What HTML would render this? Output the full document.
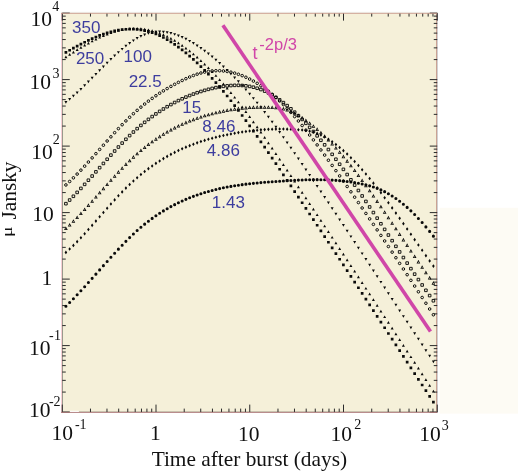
<!DOCTYPE html>
<html><head><meta charset="utf-8"><title>plot</title>
<style>
html,body{margin:0;padding:0;background:#fff;}
body{width:518px;height:472px;overflow:hidden;position:relative;font-family:"Liberation Serif",serif;}
svg{position:absolute;left:0;top:0;will-change:transform;}
.s{font-family:"Liberation Serif",serif;fill:#111;}
.h{font-family:"Liberation Sans",sans-serif;fill:#3d3d9e;}
.m{font-family:"Liberation Sans",sans-serif;fill:#d046a8;}
</style></head><body>
<svg width="518" height="472" viewBox="0 0 518 472">
<rect x="0" y="0" width="518" height="472" fill="#ffffff"/>
<rect x="439.7" y="207.8" width="79" height="205.8" fill="#fdfbf4"/>
<rect x="62" y="13" width="374.5" height="399" fill="#f5f0d9"/>
<rect x="61" y="12.8" width="1" height="400" fill="#f7d0d5"/><rect x="62" y="13" width="1" height="399.5" fill="#99998c"/><rect x="436" y="12.8" width="1.15" height="400" fill="#caa294"/><rect x="437.15" y="12.8" width="0.85" height="400" fill="#cacaca"/><rect x="61" y="11.8" width="377" height="1" fill="#f1f3ed"/><rect x="62" y="411.1" width="374.5" height="0.8" fill="#c4c4b0"/>
<path d="M90.47 412.1v-3.5M90.47 13.1v3.5M106.98 412.1v-3.5M106.98 13.1v3.5M118.69 412.1v-3.5M118.69 13.1v3.5M127.78 412.1v-3.5M127.78 13.1v3.5M135.20 412.1v-3.5M135.20 13.1v3.5M141.48 412.1v-3.5M141.48 13.1v3.5M146.91 412.1v-3.5M146.91 13.1v3.5M151.71 412.1v-3.5M151.71 13.1v3.5M62.25 412.1v-7.5M62.25 13.1v7.5M184.22 412.1v-3.5M184.22 13.1v3.5M200.73 412.1v-3.5M200.73 13.1v3.5M212.44 412.1v-3.5M212.44 13.1v3.5M221.53 412.1v-3.5M221.53 13.1v3.5M228.95 412.1v-3.5M228.95 13.1v3.5M235.23 412.1v-3.5M235.23 13.1v3.5M240.66 412.1v-3.5M240.66 13.1v3.5M245.46 412.1v-3.5M245.46 13.1v3.5M156.00 412.1v-7.5M156.00 13.1v7.5M277.97 412.1v-3.5M277.97 13.1v3.5M294.48 412.1v-3.5M294.48 13.1v3.5M306.19 412.1v-3.5M306.19 13.1v3.5M315.28 412.1v-3.5M315.28 13.1v3.5M322.70 412.1v-3.5M322.70 13.1v3.5M328.98 412.1v-3.5M328.98 13.1v3.5M334.41 412.1v-3.5M334.41 13.1v3.5M339.21 412.1v-3.5M339.21 13.1v3.5M249.75 412.1v-7.5M249.75 13.1v7.5M371.72 412.1v-3.5M371.72 13.1v3.5M388.23 412.1v-3.5M388.23 13.1v3.5M399.94 412.1v-3.5M399.94 13.1v3.5M409.03 412.1v-3.5M409.03 13.1v3.5M416.45 412.1v-3.5M416.45 13.1v3.5M422.73 412.1v-3.5M422.73 13.1v3.5M428.16 412.1v-3.5M428.16 13.1v3.5M432.96 412.1v-3.5M432.96 13.1v3.5M343.50 412.1v-7.5M343.50 13.1v7.5M437.25 412.1v-7.5M437.25 13.1v7.5M62.25 392.08h3.5M437.25 392.08h-3.5M62.25 380.37h3.5M437.25 380.37h-3.5M62.25 372.06h3.5M437.25 372.06h-3.5M62.25 365.62h3.5M437.25 365.62h-3.5M62.25 360.35h3.5M437.25 360.35h-3.5M62.25 355.90h3.5M437.25 355.90h-3.5M62.25 352.04h3.5M437.25 352.04h-3.5M62.25 348.64h3.5M437.25 348.64h-3.5M62.25 412.10h7.5M437.25 412.10h-7.5M62.25 325.58h3.5M437.25 325.58h-3.5M62.25 313.87h3.5M437.25 313.87h-3.5M62.25 305.56h3.5M437.25 305.56h-3.5M62.25 299.12h3.5M437.25 299.12h-3.5M62.25 293.85h3.5M437.25 293.85h-3.5M62.25 289.40h3.5M437.25 289.40h-3.5M62.25 285.54h3.5M437.25 285.54h-3.5M62.25 282.14h3.5M437.25 282.14h-3.5M62.25 345.60h7.5M437.25 345.60h-7.5M62.25 259.08h3.5M437.25 259.08h-3.5M62.25 247.37h3.5M437.25 247.37h-3.5M62.25 239.06h3.5M437.25 239.06h-3.5M62.25 232.62h3.5M437.25 232.62h-3.5M62.25 227.35h3.5M437.25 227.35h-3.5M62.25 222.90h3.5M437.25 222.90h-3.5M62.25 219.04h3.5M437.25 219.04h-3.5M62.25 215.64h3.5M437.25 215.64h-3.5M62.25 279.10h7.5M437.25 279.10h-7.5M62.25 192.58h3.5M437.25 192.58h-3.5M62.25 180.87h3.5M437.25 180.87h-3.5M62.25 172.56h3.5M437.25 172.56h-3.5M62.25 166.12h3.5M437.25 166.12h-3.5M62.25 160.85h3.5M437.25 160.85h-3.5M62.25 156.40h3.5M437.25 156.40h-3.5M62.25 152.54h3.5M437.25 152.54h-3.5M62.25 149.14h3.5M437.25 149.14h-3.5M62.25 212.60h7.5M437.25 212.60h-7.5M62.25 126.08h3.5M437.25 126.08h-3.5M62.25 114.37h3.5M437.25 114.37h-3.5M62.25 106.06h3.5M437.25 106.06h-3.5M62.25 99.62h3.5M437.25 99.62h-3.5M62.25 94.35h3.5M437.25 94.35h-3.5M62.25 89.90h3.5M437.25 89.90h-3.5M62.25 86.04h3.5M437.25 86.04h-3.5M62.25 82.64h3.5M437.25 82.64h-3.5M62.25 146.10h7.5M437.25 146.10h-7.5M62.25 59.58h3.5M437.25 59.58h-3.5M62.25 47.87h3.5M437.25 47.87h-3.5M62.25 39.56h3.5M437.25 39.56h-3.5M62.25 33.12h3.5M437.25 33.12h-3.5M62.25 27.85h3.5M437.25 27.85h-3.5M62.25 23.40h3.5M437.25 23.40h-3.5M62.25 19.54h3.5M437.25 19.54h-3.5M62.25 16.14h3.5M437.25 16.14h-3.5M62.25 79.60h7.5M437.25 79.60h-7.5M62.25 13.10h7.5M437.25 13.10h-7.5" stroke="#2a2a2a" stroke-width="1" fill="none"/>
<rect x="61" y="12.8" width="376.2" height="1.1" fill="#c99a8c" fill-opacity="0.8"/><rect x="61" y="411.9" width="376.2" height="0.9" fill="#a87070"/>
<rect x="69.9" y="410.8" width="9" height="1.1" fill="#ffffff"/>
<clipPath id="c"><rect x="62.25" y="13.1" width="375.0" height="399.0"/></clipPath>
<g clip-path="url(#c)">
<path d="M64.35 306.20a1.55 1.55 0 1 0 3.1 0a1.55 1.55 0 1 0 -3.1 0zM68.10 302.52a1.55 1.55 0 1 0 3.1 0a1.55 1.55 0 1 0 -3.1 0zM71.85 298.70a1.55 1.55 0 1 0 3.1 0a1.55 1.55 0 1 0 -3.1 0zM75.60 294.78a1.55 1.55 0 1 0 3.1 0a1.55 1.55 0 1 0 -3.1 0zM79.35 290.77a1.55 1.55 0 1 0 3.1 0a1.55 1.55 0 1 0 -3.1 0zM83.10 286.68a1.55 1.55 0 1 0 3.1 0a1.55 1.55 0 1 0 -3.1 0zM86.85 282.53a1.55 1.55 0 1 0 3.1 0a1.55 1.55 0 1 0 -3.1 0zM90.60 278.34a1.55 1.55 0 1 0 3.1 0a1.55 1.55 0 1 0 -3.1 0zM94.35 274.12a1.55 1.55 0 1 0 3.1 0a1.55 1.55 0 1 0 -3.1 0zM98.10 269.89a1.55 1.55 0 1 0 3.1 0a1.55 1.55 0 1 0 -3.1 0zM101.85 265.67a1.55 1.55 0 1 0 3.1 0a1.55 1.55 0 1 0 -3.1 0zM105.60 261.47a1.55 1.55 0 1 0 3.1 0a1.55 1.55 0 1 0 -3.1 0zM109.35 257.30a1.55 1.55 0 1 0 3.1 0a1.55 1.55 0 1 0 -3.1 0zM113.10 253.19a1.55 1.55 0 1 0 3.1 0a1.55 1.55 0 1 0 -3.1 0zM116.85 249.15a1.55 1.55 0 1 0 3.1 0a1.55 1.55 0 1 0 -3.1 0zM120.60 245.19a1.55 1.55 0 1 0 3.1 0a1.55 1.55 0 1 0 -3.1 0zM124.35 241.34a1.55 1.55 0 1 0 3.1 0a1.55 1.55 0 1 0 -3.1 0zM128.10 237.61a1.55 1.55 0 1 0 3.1 0a1.55 1.55 0 1 0 -3.1 0zM131.85 234.01a1.55 1.55 0 1 0 3.1 0a1.55 1.55 0 1 0 -3.1 0zM135.60 230.56a1.55 1.55 0 1 0 3.1 0a1.55 1.55 0 1 0 -3.1 0zM139.35 227.28a1.55 1.55 0 1 0 3.1 0a1.55 1.55 0 1 0 -3.1 0zM143.10 224.15a1.55 1.55 0 1 0 3.1 0a1.55 1.55 0 1 0 -3.1 0zM146.85 221.20a1.55 1.55 0 1 0 3.1 0a1.55 1.55 0 1 0 -3.1 0zM150.60 218.41a1.55 1.55 0 1 0 3.1 0a1.55 1.55 0 1 0 -3.1 0zM154.35 215.77a1.55 1.55 0 1 0 3.1 0a1.55 1.55 0 1 0 -3.1 0zM158.10 213.27a1.55 1.55 0 1 0 3.1 0a1.55 1.55 0 1 0 -3.1 0zM161.85 210.92a1.55 1.55 0 1 0 3.1 0a1.55 1.55 0 1 0 -3.1 0zM165.60 208.70a1.55 1.55 0 1 0 3.1 0a1.55 1.55 0 1 0 -3.1 0zM169.35 206.60a1.55 1.55 0 1 0 3.1 0a1.55 1.55 0 1 0 -3.1 0zM173.10 204.63a1.55 1.55 0 1 0 3.1 0a1.55 1.55 0 1 0 -3.1 0zM176.85 202.76a1.55 1.55 0 1 0 3.1 0a1.55 1.55 0 1 0 -3.1 0zM180.60 201.01a1.55 1.55 0 1 0 3.1 0a1.55 1.55 0 1 0 -3.1 0zM184.35 199.36a1.55 1.55 0 1 0 3.1 0a1.55 1.55 0 1 0 -3.1 0zM188.10 197.81a1.55 1.55 0 1 0 3.1 0a1.55 1.55 0 1 0 -3.1 0zM191.85 196.36a1.55 1.55 0 1 0 3.1 0a1.55 1.55 0 1 0 -3.1 0zM195.60 195.00a1.55 1.55 0 1 0 3.1 0a1.55 1.55 0 1 0 -3.1 0zM199.35 193.73a1.55 1.55 0 1 0 3.1 0a1.55 1.55 0 1 0 -3.1 0zM203.10 192.55a1.55 1.55 0 1 0 3.1 0a1.55 1.55 0 1 0 -3.1 0zM206.85 191.45a1.55 1.55 0 1 0 3.1 0a1.55 1.55 0 1 0 -3.1 0zM210.60 190.44a1.55 1.55 0 1 0 3.1 0a1.55 1.55 0 1 0 -3.1 0zM214.35 189.49a1.55 1.55 0 1 0 3.1 0a1.55 1.55 0 1 0 -3.1 0zM218.10 188.62a1.55 1.55 0 1 0 3.1 0a1.55 1.55 0 1 0 -3.1 0zM221.85 187.81a1.55 1.55 0 1 0 3.1 0a1.55 1.55 0 1 0 -3.1 0zM225.60 187.07a1.55 1.55 0 1 0 3.1 0a1.55 1.55 0 1 0 -3.1 0zM229.35 186.39a1.55 1.55 0 1 0 3.1 0a1.55 1.55 0 1 0 -3.1 0zM233.10 185.76a1.55 1.55 0 1 0 3.1 0a1.55 1.55 0 1 0 -3.1 0zM236.85 185.18a1.55 1.55 0 1 0 3.1 0a1.55 1.55 0 1 0 -3.1 0zM240.60 184.66a1.55 1.55 0 1 0 3.1 0a1.55 1.55 0 1 0 -3.1 0zM244.35 184.17a1.55 1.55 0 1 0 3.1 0a1.55 1.55 0 1 0 -3.1 0zM248.10 183.73a1.55 1.55 0 1 0 3.1 0a1.55 1.55 0 1 0 -3.1 0zM251.85 183.33a1.55 1.55 0 1 0 3.1 0a1.55 1.55 0 1 0 -3.1 0zM255.60 182.95a1.55 1.55 0 1 0 3.1 0a1.55 1.55 0 1 0 -3.1 0zM259.35 182.61a1.55 1.55 0 1 0 3.1 0a1.55 1.55 0 1 0 -3.1 0zM263.10 182.29a1.55 1.55 0 1 0 3.1 0a1.55 1.55 0 1 0 -3.1 0zM266.85 181.99a1.55 1.55 0 1 0 3.1 0a1.55 1.55 0 1 0 -3.1 0zM270.60 181.71a1.55 1.55 0 1 0 3.1 0a1.55 1.55 0 1 0 -3.1 0zM274.35 181.44a1.55 1.55 0 1 0 3.1 0a1.55 1.55 0 1 0 -3.1 0zM278.10 181.18a1.55 1.55 0 1 0 3.1 0a1.55 1.55 0 1 0 -3.1 0zM281.85 180.93a1.55 1.55 0 1 0 3.1 0a1.55 1.55 0 1 0 -3.1 0zM285.60 180.70a1.55 1.55 0 1 0 3.1 0a1.55 1.55 0 1 0 -3.1 0zM289.35 180.47a1.55 1.55 0 1 0 3.1 0a1.55 1.55 0 1 0 -3.1 0zM293.10 180.27a1.55 1.55 0 1 0 3.1 0a1.55 1.55 0 1 0 -3.1 0zM296.85 180.09a1.55 1.55 0 1 0 3.1 0a1.55 1.55 0 1 0 -3.1 0zM300.60 179.94a1.55 1.55 0 1 0 3.1 0a1.55 1.55 0 1 0 -3.1 0zM304.35 179.81a1.55 1.55 0 1 0 3.1 0a1.55 1.55 0 1 0 -3.1 0zM308.10 179.72a1.55 1.55 0 1 0 3.1 0a1.55 1.55 0 1 0 -3.1 0zM311.85 179.67a1.55 1.55 0 1 0 3.1 0a1.55 1.55 0 1 0 -3.1 0zM315.60 179.66a1.55 1.55 0 1 0 3.1 0a1.55 1.55 0 1 0 -3.1 0zM319.35 179.69a1.55 1.55 0 1 0 3.1 0a1.55 1.55 0 1 0 -3.1 0zM323.10 179.77a1.55 1.55 0 1 0 3.1 0a1.55 1.55 0 1 0 -3.1 0zM326.85 179.90a1.55 1.55 0 1 0 3.1 0a1.55 1.55 0 1 0 -3.1 0zM330.60 180.08a1.55 1.55 0 1 0 3.1 0a1.55 1.55 0 1 0 -3.1 0zM334.35 180.33a1.55 1.55 0 1 0 3.1 0a1.55 1.55 0 1 0 -3.1 0zM338.10 180.64a1.55 1.55 0 1 0 3.1 0a1.55 1.55 0 1 0 -3.1 0zM341.85 181.01a1.55 1.55 0 1 0 3.1 0a1.55 1.55 0 1 0 -3.1 0zM345.60 181.45a1.55 1.55 0 1 0 3.1 0a1.55 1.55 0 1 0 -3.1 0zM349.35 181.96a1.55 1.55 0 1 0 3.1 0a1.55 1.55 0 1 0 -3.1 0zM353.10 182.55a1.55 1.55 0 1 0 3.1 0a1.55 1.55 0 1 0 -3.1 0zM356.85 183.23a1.55 1.55 0 1 0 3.1 0a1.55 1.55 0 1 0 -3.1 0zM360.60 183.98a1.55 1.55 0 1 0 3.1 0a1.55 1.55 0 1 0 -3.1 0zM364.35 184.85a1.55 1.55 0 1 0 3.1 0a1.55 1.55 0 1 0 -3.1 0zM368.10 185.85a1.55 1.55 0 1 0 3.1 0a1.55 1.55 0 1 0 -3.1 0zM371.85 187.01a1.55 1.55 0 1 0 3.1 0a1.55 1.55 0 1 0 -3.1 0zM375.60 188.35a1.55 1.55 0 1 0 3.1 0a1.55 1.55 0 1 0 -3.1 0zM379.35 189.89a1.55 1.55 0 1 0 3.1 0a1.55 1.55 0 1 0 -3.1 0zM383.10 191.66a1.55 1.55 0 1 0 3.1 0a1.55 1.55 0 1 0 -3.1 0zM386.85 193.68a1.55 1.55 0 1 0 3.1 0a1.55 1.55 0 1 0 -3.1 0zM390.60 195.95a1.55 1.55 0 1 0 3.1 0a1.55 1.55 0 1 0 -3.1 0zM394.35 198.46a1.55 1.55 0 1 0 3.1 0a1.55 1.55 0 1 0 -3.1 0zM398.10 201.21a1.55 1.55 0 1 0 3.1 0a1.55 1.55 0 1 0 -3.1 0zM401.85 204.19a1.55 1.55 0 1 0 3.1 0a1.55 1.55 0 1 0 -3.1 0zM405.60 207.41a1.55 1.55 0 1 0 3.1 0a1.55 1.55 0 1 0 -3.1 0zM409.35 210.86a1.55 1.55 0 1 0 3.1 0a1.55 1.55 0 1 0 -3.1 0zM413.10 214.54a1.55 1.55 0 1 0 3.1 0a1.55 1.55 0 1 0 -3.1 0zM416.85 218.43a1.55 1.55 0 1 0 3.1 0a1.55 1.55 0 1 0 -3.1 0zM420.60 222.55a1.55 1.55 0 1 0 3.1 0a1.55 1.55 0 1 0 -3.1 0zM424.35 226.88a1.55 1.55 0 1 0 3.1 0a1.55 1.55 0 1 0 -3.1 0zM428.10 231.42a1.55 1.55 0 1 0 3.1 0a1.55 1.55 0 1 0 -3.1 0zM431.85 236.16a1.55 1.55 0 1 0 3.1 0a1.55 1.55 0 1 0 -3.1 0z" fill="#0a0a0a" fill-rule="evenodd"/>
<path d="M65.90 250.59L67.20 252.39L65.90 254.19L64.60 252.39zM69.65 247.20L70.95 249.00L69.65 250.80L68.35 249.00zM73.40 243.61L74.70 245.41L73.40 247.21L72.10 245.41zM77.15 239.85L78.45 241.65L77.15 243.45L75.85 241.65zM80.90 235.94L82.20 237.74L80.90 239.54L79.60 237.74zM84.65 231.90L85.95 233.70L84.65 235.50L83.35 233.70zM88.40 227.77L89.70 229.57L88.40 231.37L87.10 229.57zM92.15 223.56L93.45 225.36L92.15 227.16L90.85 225.36zM95.90 219.30L97.20 221.10L95.90 222.90L94.60 221.10zM99.65 215.01L100.95 216.81L99.65 218.61L98.35 216.81zM103.40 210.72L104.70 212.52L103.40 214.32L102.10 212.52zM107.15 206.45L108.45 208.25L107.15 210.05L105.85 208.25zM110.90 202.23L112.20 204.03L110.90 205.83L109.60 204.03zM114.65 198.08L115.95 199.88L114.65 201.68L113.35 199.88zM118.40 194.02L119.70 195.82L118.40 197.62L117.10 195.82zM122.15 190.09L123.45 191.89L122.15 193.69L120.85 191.89zM125.90 186.29L127.20 188.09L125.90 189.89L124.60 188.09zM129.65 182.66L130.95 184.46L129.65 186.26L128.35 184.46zM133.40 179.19L134.70 180.99L133.40 182.79L132.10 180.99zM137.15 175.88L138.45 177.68L137.15 179.48L135.85 177.68zM140.90 172.73L142.20 174.53L140.90 176.33L139.60 174.53zM144.65 169.73L145.95 171.53L144.65 173.33L143.35 171.53zM148.40 166.87L149.70 168.67L148.40 170.47L147.10 168.67zM152.15 164.15L153.45 165.95L152.15 167.75L150.85 165.95zM155.90 161.57L157.20 163.37L155.90 165.17L154.60 163.37zM159.65 159.13L160.95 160.93L159.65 162.73L158.35 160.93zM163.40 156.81L164.70 158.61L163.40 160.41L162.10 158.61zM167.15 154.62L168.45 156.42L167.15 158.22L165.85 156.42zM170.90 152.55L172.20 154.35L170.90 156.15L169.60 154.35zM174.65 150.59L175.95 152.39L174.65 154.19L173.35 152.39zM178.40 148.74L179.70 150.54L178.40 152.34L177.10 150.54zM182.15 147.01L183.45 148.81L182.15 150.61L180.85 148.81zM185.90 145.37L187.20 147.17L185.90 148.97L184.60 147.17zM189.65 143.83L190.95 145.63L189.65 147.43L188.35 145.63zM193.40 142.39L194.70 144.19L193.40 145.99L192.10 144.19zM197.15 141.03L198.45 142.83L197.15 144.63L195.85 142.83zM200.90 139.76L202.20 141.56L200.90 143.36L199.60 141.56zM204.65 138.58L205.95 140.38L204.65 142.18L203.35 140.38zM208.40 137.46L209.70 139.26L208.40 141.06L207.10 139.26zM212.15 136.42L213.45 138.22L212.15 140.02L210.85 138.22zM215.90 135.45L217.20 137.25L215.90 139.05L214.60 137.25zM219.65 134.54L220.95 136.34L219.65 138.14L218.35 136.34zM223.40 133.69L224.70 135.49L223.40 137.29L222.10 135.49zM227.15 132.90L228.45 134.70L227.15 136.50L225.85 134.70zM230.90 132.16L232.20 133.96L230.90 135.76L229.60 133.96zM234.65 131.46L235.95 133.26L234.65 135.06L233.35 133.26zM238.40 130.82L239.70 132.62L238.40 134.42L237.10 132.62zM242.15 130.23L243.45 132.03L242.15 133.83L240.85 132.03zM245.90 129.69L247.20 131.49L245.90 133.29L244.60 131.49zM249.65 129.20L250.95 131.00L249.65 132.80L248.35 131.00zM253.40 128.76L254.70 130.56L253.40 132.36L252.10 130.56zM257.15 128.38L258.45 130.18L257.15 131.98L255.85 130.18zM260.90 128.05L262.20 129.85L260.90 131.65L259.60 129.85zM264.65 127.78L265.95 129.58L264.65 131.38L263.35 129.58zM268.40 127.56L269.70 129.36L268.40 131.16L267.10 129.36zM272.15 127.40L273.45 129.20L272.15 131.00L270.85 129.20zM275.90 127.30L277.20 129.10L275.90 130.90L274.60 129.10zM279.65 127.25L280.95 129.05L279.65 130.85L278.35 129.05zM283.40 127.27L284.70 129.07L283.40 130.87L282.10 129.07zM287.15 127.34L288.45 129.14L287.15 130.94L285.85 129.14zM290.90 127.47L292.20 129.27L290.90 131.07L289.60 129.27zM294.65 127.66L295.95 129.46L294.65 131.26L293.35 129.46zM298.40 127.92L299.70 129.72L298.40 131.52L297.10 129.72zM302.15 128.24L303.45 130.04L302.15 131.84L300.85 130.04zM305.90 128.70L307.20 130.50L305.90 132.30L304.60 130.50zM309.65 129.36L310.95 131.16L309.65 132.96L308.35 131.16zM313.40 130.31L314.70 132.11L313.40 133.91L312.10 132.11zM317.15 131.60L318.45 133.40L317.15 135.20L315.85 133.40zM320.90 133.23L322.20 135.03L320.90 136.83L319.60 135.03zM324.65 135.17L325.95 136.97L324.65 138.77L323.35 136.97zM328.40 137.40L329.70 139.20L328.40 141.00L327.10 139.20zM332.15 139.90L333.45 141.70L332.15 143.50L330.85 141.70zM335.90 142.64L337.20 144.44L335.90 146.24L334.60 144.44zM339.65 145.63L340.95 147.43L339.65 149.23L338.35 147.43zM343.40 148.84L344.70 150.64L343.40 152.44L342.10 150.64zM347.15 152.27L348.45 154.07L347.15 155.87L345.85 154.07zM350.90 155.91L352.20 157.71L350.90 159.51L349.60 157.71zM354.65 159.73L355.95 161.53L354.65 163.33L353.35 161.53zM358.40 163.74L359.70 165.54L358.40 167.34L357.10 165.54zM362.15 167.92L363.45 169.72L362.15 171.52L360.85 169.72zM365.90 172.26L367.20 174.06L365.90 175.86L364.60 174.06zM369.65 176.75L370.95 178.55L369.65 180.35L368.35 178.55zM373.40 181.37L374.70 183.17L373.40 184.97L372.10 183.17zM377.15 186.11L378.45 187.91L377.15 189.71L375.85 187.91zM380.90 190.97L382.20 192.77L380.90 194.57L379.60 192.77zM384.65 195.93L385.95 197.73L384.65 199.53L383.35 197.73zM388.40 200.98L389.70 202.78L388.40 204.58L387.10 202.78zM392.15 206.10L393.45 207.90L392.15 209.70L390.85 207.90zM395.90 211.29L397.20 213.09L395.90 214.89L394.60 213.09zM399.65 216.54L400.95 218.34L399.65 220.14L398.35 218.34zM403.40 221.83L404.70 223.63L403.40 225.43L402.10 223.63zM407.15 227.15L408.45 228.95L407.15 230.75L405.85 228.95zM410.90 232.49L412.20 234.29L410.90 236.09L409.60 234.29zM414.65 237.84L415.95 239.64L414.65 241.44L413.35 239.64zM418.40 243.19L419.70 244.99L418.40 246.79L417.10 244.99zM422.15 248.52L423.45 250.32L422.15 252.12L420.85 250.32zM425.90 253.83L427.20 255.63L425.90 257.43L424.60 255.63zM429.65 259.10L430.95 260.90L429.65 262.70L428.35 260.90zM433.40 264.32L434.70 266.12L433.40 267.92L432.10 266.12z" fill="#0a0a0a" fill-rule="evenodd"/>
<path d="M65.90 226.48L67.75 230.08L64.05 230.08zM65.90 228.23L65.35 229.33L66.45 229.33zM69.65 222.92L71.50 226.52L67.80 226.52zM69.65 224.67L69.10 225.77L70.20 225.77zM73.40 219.21L75.25 222.81L71.55 222.81zM73.40 220.96L72.85 222.06L73.95 222.06zM77.15 215.39L79.00 218.99L75.30 218.99zM77.15 217.14L76.60 218.24L77.70 218.24zM80.90 211.45L82.75 215.05L79.05 215.05zM80.90 213.20L80.35 214.30L81.45 214.30zM84.65 207.42L86.50 211.02L82.80 211.02zM84.65 209.17L84.10 210.27L85.20 210.27zM88.40 203.32L90.25 206.92L86.55 206.92zM88.40 205.07L87.85 206.17L88.95 206.17zM92.15 199.17L94.00 202.77L90.30 202.77zM92.15 200.92L91.60 202.02L92.70 202.02zM95.90 194.98L97.75 198.58L94.05 198.58zM95.90 196.73L95.35 197.83L96.45 197.83zM99.65 190.77L101.50 194.37L97.80 194.37zM99.65 192.52L99.10 193.62L100.20 193.62zM103.40 186.57L105.25 190.17L101.55 190.17zM103.40 188.32L102.85 189.42L103.95 189.42zM107.15 182.38L109.00 185.98L105.30 185.98zM107.15 184.13L106.60 185.23L107.70 185.23zM110.90 178.23L112.75 181.83L109.05 181.83zM110.90 179.98L110.35 181.08L111.45 181.08zM114.65 174.13L116.50 177.73L112.80 177.73zM114.65 175.88L114.10 176.98L115.20 176.98zM118.40 170.11L120.25 173.71L116.55 173.71zM118.40 171.86L117.85 172.96L118.95 172.96zM122.15 166.17L124.00 169.77L120.30 169.77zM122.15 167.92L121.60 169.02L122.70 169.02zM125.90 162.35L127.75 165.95L124.05 165.95zM125.90 164.10L125.35 165.20L126.45 165.20zM129.65 158.65L131.50 162.25L127.80 162.25zM129.65 160.40L129.10 161.50L130.20 161.50zM133.40 155.10L135.25 158.70L131.55 158.70zM133.40 156.85L132.85 157.95L133.95 157.95zM137.15 151.70L139.00 155.30L135.30 155.30zM137.15 153.45L136.60 154.55L137.70 154.55zM140.90 148.47L142.75 152.07L139.05 152.07zM140.90 150.22L140.35 151.32L141.45 151.32zM144.65 145.39L146.50 148.99L142.80 148.99zM144.65 147.14L144.10 148.24L145.20 148.24zM148.40 142.46L150.25 146.06L146.55 146.06zM148.40 144.21L147.85 145.31L148.95 145.31zM152.15 139.67L154.00 143.27L150.30 143.27zM152.15 141.42L151.60 142.52L152.70 142.52zM155.90 137.03L157.75 140.63L154.05 140.63zM155.90 138.78L155.35 139.88L156.45 139.88zM159.65 134.53L161.50 138.13L157.80 138.13zM159.65 136.28L159.10 137.38L160.20 137.38zM163.40 132.16L165.25 135.76L161.55 135.76zM163.40 133.91L162.85 135.01L163.95 135.01zM167.15 129.93L169.00 133.53L165.30 133.53zM167.15 131.68L166.60 132.78L167.70 132.78zM170.90 127.81L172.75 131.41L169.05 131.41zM170.90 129.56L170.35 130.66L171.45 130.66zM174.65 125.82L176.50 129.42L172.80 129.42zM174.65 127.57L174.10 128.67L175.20 128.67zM178.40 123.95L180.25 127.55L176.55 127.55zM178.40 125.70L177.85 126.80L178.95 126.80zM182.15 122.18L184.00 125.78L180.30 125.78zM182.15 123.93L181.60 125.03L182.70 125.03zM185.90 120.53L187.75 124.13L184.05 124.13zM185.90 122.28L185.35 123.38L186.45 123.38zM189.65 118.98L191.50 122.58L187.80 122.58zM189.65 120.73L189.10 121.83L190.20 121.83zM193.40 117.53L195.25 121.13L191.55 121.13zM193.40 119.28L192.85 120.38L193.95 120.38zM197.15 116.18L199.00 119.78L195.30 119.78zM197.15 117.93L196.60 119.03L197.70 119.03zM200.90 114.92L202.75 118.52L199.05 118.52zM200.90 116.67L200.35 117.77L201.45 117.77zM204.65 113.74L206.50 117.34L202.80 117.34zM204.65 115.49L204.10 116.59L205.20 116.59zM208.40 112.65L210.25 116.25L206.55 116.25zM208.40 114.40L207.85 115.50L208.95 115.50zM212.15 111.64L214.00 115.24L210.30 115.24zM212.15 113.39L211.60 114.49L212.70 114.49zM215.90 110.71L217.75 114.31L214.05 114.31zM215.90 112.46L215.35 113.56L216.45 113.56zM219.65 109.84L221.50 113.44L217.80 113.44zM219.65 111.59L219.10 112.69L220.20 112.69zM223.40 109.05L225.25 112.65L221.55 112.65zM223.40 110.80L222.85 111.90L223.95 111.90zM227.15 108.32L229.00 111.92L225.30 111.92zM227.15 110.07L226.60 111.17L227.70 111.17zM230.90 107.67L232.75 111.27L229.05 111.27zM230.90 109.42L230.35 110.52L231.45 110.52zM234.65 107.09L236.50 110.69L232.80 110.69zM234.65 108.84L234.10 109.94L235.20 109.94zM238.40 106.59L240.25 110.19L236.55 110.19zM238.40 108.34L237.85 109.44L238.95 109.44zM242.15 106.15L244.00 109.75L240.30 109.75zM242.15 107.90L241.60 109.00L242.70 109.00zM245.90 105.80L247.75 109.40L244.05 109.40zM245.90 107.55L245.35 108.65L246.45 108.65zM249.65 105.51L251.50 109.11L247.80 109.11zM249.65 107.26L249.10 108.36L250.20 108.36zM253.40 105.30L255.25 108.90L251.55 108.90zM253.40 107.05L252.85 108.15L253.95 108.15zM257.15 105.17L259.00 108.77L255.30 108.77zM257.15 106.92L256.60 108.02L257.70 108.02zM260.90 105.12L262.75 108.72L259.05 108.72zM260.90 106.87L260.35 107.97L261.45 107.97zM264.65 105.14L266.50 108.74L262.80 108.74zM264.65 106.89L264.10 107.99L265.20 107.99zM268.40 105.24L270.25 108.84L266.55 108.84zM268.40 106.99L267.85 108.09L268.95 108.09zM272.15 105.41L274.00 109.01L270.30 109.01zM272.15 107.16L271.60 108.26L272.70 108.26zM275.90 105.68L277.75 109.28L274.05 109.28zM275.90 107.43L275.35 108.53L276.45 108.53zM279.65 106.10L281.50 109.70L277.80 109.70zM279.65 107.85L279.10 108.95L280.20 108.95zM283.40 106.79L285.25 110.39L281.55 110.39zM283.40 108.54L282.85 109.64L283.95 109.64zM287.15 107.83L289.00 111.43L285.30 111.43zM287.15 109.58L286.60 110.68L287.70 110.68zM290.90 109.31L292.75 112.91L289.05 112.91zM290.90 111.06L290.35 112.16L291.45 112.16zM294.65 111.19L296.50 114.79L292.80 114.79zM294.65 112.94L294.10 114.04L295.20 114.04zM298.40 113.40L300.25 117.00L296.55 117.00zM298.40 115.15L297.85 116.25L298.95 116.25zM302.15 115.84L304.00 119.44L300.30 119.44zM302.15 117.59L301.60 118.69L302.70 118.69zM305.90 118.46L307.75 122.06L304.05 122.06zM305.90 120.21L305.35 121.31L306.45 121.31zM309.65 121.24L311.50 124.84L307.80 124.84zM309.65 122.99L309.10 124.09L310.20 124.09zM313.40 124.20L315.25 127.80L311.55 127.80zM313.40 125.95L312.85 127.05L313.95 127.05zM317.15 127.34L319.00 130.94L315.30 130.94zM317.15 129.09L316.60 130.19L317.70 130.19zM320.90 130.67L322.75 134.27L319.05 134.27zM320.90 132.42L320.35 133.52L321.45 133.52zM324.65 134.20L326.50 137.80L322.80 137.80zM324.65 135.95L324.10 137.05L325.20 137.05zM328.40 137.92L330.25 141.52L326.55 141.52zM328.40 139.67L327.85 140.77L328.95 140.77zM332.15 141.83L334.00 145.43L330.30 145.43zM332.15 143.58L331.60 144.68L332.70 144.68zM335.90 145.90L337.75 149.50L334.05 149.50zM335.90 147.65L335.35 148.75L336.45 148.75zM339.65 150.14L341.50 153.74L337.80 153.74zM339.65 151.89L339.10 152.99L340.20 152.99zM343.40 154.53L345.25 158.13L341.55 158.13zM343.40 156.28L342.85 157.38L343.95 157.38zM347.15 159.06L349.00 162.66L345.30 162.66zM347.15 160.81L346.60 161.91L347.70 161.91zM350.90 163.73L352.75 167.33L349.05 167.33zM350.90 165.48L350.35 166.58L351.45 166.58zM354.65 168.52L356.50 172.12L352.80 172.12zM354.65 170.27L354.10 171.37L355.20 171.37zM358.40 173.43L360.25 177.03L356.55 177.03zM358.40 175.18L357.85 176.28L358.95 176.28zM362.15 178.45L364.00 182.05L360.30 182.05zM362.15 180.20L361.60 181.30L362.70 181.30zM365.90 183.55L367.75 187.15L364.05 187.15zM365.90 185.30L365.35 186.40L366.45 186.40zM369.65 188.75L371.50 192.35L367.80 192.35zM369.65 190.50L369.10 191.60L370.20 191.60zM373.40 194.02L375.25 197.62L371.55 197.62zM373.40 195.77L372.85 196.87L373.95 196.87zM377.15 199.36L379.00 202.96L375.30 202.96zM377.15 201.11L376.60 202.21L377.70 202.21zM380.90 204.76L382.75 208.36L379.05 208.36zM380.90 206.51L380.35 207.61L381.45 207.61zM384.65 210.21L386.50 213.81L382.80 213.81zM384.65 211.96L384.10 213.06L385.20 213.06zM388.40 215.69L390.25 219.29L386.55 219.29zM388.40 217.44L387.85 218.54L388.95 218.54zM392.15 221.20L394.00 224.80L390.30 224.80zM392.15 222.95L391.60 224.05L392.70 224.05zM395.90 226.74L397.75 230.34L394.05 230.34zM395.90 228.49L395.35 229.59L396.45 229.59zM399.65 232.28L401.50 235.88L397.80 235.88zM399.65 234.03L399.10 235.13L400.20 235.13zM403.40 237.83L405.25 241.43L401.55 241.43zM403.40 239.58L402.85 240.68L403.95 240.68zM407.15 243.37L409.00 246.97L405.30 246.97zM407.15 245.12L406.60 246.22L407.70 246.22zM410.90 248.88L412.75 252.48L409.05 252.48zM410.90 250.63L410.35 251.73L411.45 251.73zM414.65 254.38L416.50 257.98L412.80 257.98zM414.65 256.13L414.10 257.23L415.20 257.23zM418.40 259.83L420.25 263.43L416.55 263.43zM418.40 261.58L417.85 262.68L418.95 262.68zM422.15 265.24L424.00 268.84L420.30 268.84zM422.15 266.99L421.60 268.09L422.70 268.09zM425.90 270.59L427.75 274.19L424.05 274.19zM425.90 272.34L425.35 273.44L426.45 273.44zM429.65 275.87L431.50 279.47L427.80 279.47zM429.65 277.62L429.10 278.72L430.20 278.72zM433.40 281.08L435.25 284.68L431.55 284.68zM433.40 282.83L432.85 283.93L433.95 283.93z" fill="#0a0a0a" fill-rule="evenodd"/>
<path d="M64.60 202.38h2.60v2.60h-2.60zM68.35 198.74h2.60v2.60h-2.60zM72.10 194.98h2.60v2.60h-2.60zM75.85 191.09h2.60v2.60h-2.60zM79.60 187.11h2.60v2.60h-2.60zM83.35 183.05h2.60v2.60h-2.60zM87.10 178.93h2.60v2.60h-2.60zM90.85 174.76h2.60v2.60h-2.60zM94.60 170.56h2.60v2.60h-2.60zM98.35 166.35h2.60v2.60h-2.60zM102.10 162.15h2.60v2.60h-2.60zM105.85 157.96h2.60v2.60h-2.60zM109.60 153.82h2.60v2.60h-2.60zM113.35 149.73h2.60v2.60h-2.60zM117.10 145.72h2.60v2.60h-2.60zM120.85 141.80h2.60v2.60h-2.60zM124.60 137.98h2.60v2.60h-2.60zM128.35 134.29h2.60v2.60h-2.60zM132.10 130.74h2.60v2.60h-2.60zM135.85 127.35h2.60v2.60h-2.60zM139.60 124.11h2.60v2.60h-2.60zM143.35 121.02h2.60v2.60h-2.60zM147.10 118.08h2.60v2.60h-2.60zM150.85 115.28h2.60v2.60h-2.60zM154.60 112.62h2.60v2.60h-2.60zM158.35 110.09h2.60v2.60h-2.60zM162.10 107.69h2.60v2.60h-2.60zM165.85 105.41h2.60v2.60h-2.60zM169.60 103.26h2.60v2.60h-2.60zM173.35 101.22h2.60v2.60h-2.60zM177.10 99.30h2.60v2.60h-2.60zM180.85 97.49h2.60v2.60h-2.60zM184.60 95.80h2.60v2.60h-2.60zM188.35 94.23h2.60v2.60h-2.60zM192.10 92.77h2.60v2.60h-2.60zM195.85 91.42h2.60v2.60h-2.60zM199.60 90.18h2.60v2.60h-2.60zM203.35 89.05h2.60v2.60h-2.60zM207.10 88.04h2.60v2.60h-2.60zM210.85 87.13h2.60v2.60h-2.60zM214.60 86.32h2.60v2.60h-2.60zM218.35 85.63h2.60v2.60h-2.60zM222.10 85.04h2.60v2.60h-2.60zM225.85 84.57h2.60v2.60h-2.60zM229.60 84.23h2.60v2.60h-2.60zM233.35 84.05h2.60v2.60h-2.60zM237.10 84.03h2.60v2.60h-2.60zM240.85 84.19h2.60v2.60h-2.60zM244.60 84.55h2.60v2.60h-2.60zM248.35 85.11h2.60v2.60h-2.60zM252.10 85.91h2.60v2.60h-2.60zM255.85 86.95h2.60v2.60h-2.60zM259.60 88.24h2.60v2.60h-2.60zM263.35 89.80h2.60v2.60h-2.60zM267.10 91.63h2.60v2.60h-2.60zM270.85 93.70h2.60v2.60h-2.60zM274.60 96.02h2.60v2.60h-2.60zM278.35 98.57h2.60v2.60h-2.60zM282.10 101.34h2.60v2.60h-2.60zM285.85 104.33h2.60v2.60h-2.60zM289.60 107.50h2.60v2.60h-2.60zM293.35 110.87h2.60v2.60h-2.60zM297.10 114.42h2.60v2.60h-2.60zM300.85 118.13h2.60v2.60h-2.60zM304.60 122.01h2.60v2.60h-2.60zM308.35 126.04h2.60v2.60h-2.60zM312.10 130.21h2.60v2.60h-2.60zM315.85 134.53h2.60v2.60h-2.60zM319.60 138.97h2.60v2.60h-2.60zM323.35 143.55h2.60v2.60h-2.60zM327.10 148.24h2.60v2.60h-2.60zM330.85 153.04h2.60v2.60h-2.60zM334.60 157.95h2.60v2.60h-2.60zM338.35 162.95h2.60v2.60h-2.60zM342.10 168.05h2.60v2.60h-2.60zM345.85 173.23h2.60v2.60h-2.60zM349.60 178.49h2.60v2.60h-2.60zM353.35 183.81h2.60v2.60h-2.60zM357.10 189.20h2.60v2.60h-2.60zM360.85 194.65h2.60v2.60h-2.60zM364.60 200.14h2.60v2.60h-2.60zM368.35 205.68h2.60v2.60h-2.60zM372.10 211.25h2.60v2.60h-2.60zM375.85 216.85h2.60v2.60h-2.60zM379.60 222.47h2.60v2.60h-2.60zM383.35 228.10h2.60v2.60h-2.60zM387.10 233.74h2.60v2.60h-2.60zM390.85 239.38h2.60v2.60h-2.60zM394.60 245.02h2.60v2.60h-2.60zM398.35 250.64h2.60v2.60h-2.60zM402.10 256.24h2.60v2.60h-2.60zM405.85 261.81h2.60v2.60h-2.60zM409.60 267.35h2.60v2.60h-2.60zM413.35 272.84h2.60v2.60h-2.60zM417.10 278.29h2.60v2.60h-2.60zM420.85 283.68h2.60v2.60h-2.60zM424.60 289.01h2.60v2.60h-2.60zM428.35 294.27h2.60v2.60h-2.60zM432.10 299.45h2.60v2.60h-2.60z" fill="none" stroke="#000" stroke-width="0.9"/>
<path d="M64.60 184.94a1.3 1.3 0 1 0 2.6 0a1.3 1.3 0 1 0 -2.6 0zM68.35 181.48a1.3 1.3 0 1 0 2.6 0a1.3 1.3 0 1 0 -2.6 0zM72.10 177.84a1.3 1.3 0 1 0 2.6 0a1.3 1.3 0 1 0 -2.6 0zM75.85 174.06a1.3 1.3 0 1 0 2.6 0a1.3 1.3 0 1 0 -2.6 0zM79.60 170.16a1.3 1.3 0 1 0 2.6 0a1.3 1.3 0 1 0 -2.6 0zM83.35 166.14a1.3 1.3 0 1 0 2.6 0a1.3 1.3 0 1 0 -2.6 0zM87.10 162.05a1.3 1.3 0 1 0 2.6 0a1.3 1.3 0 1 0 -2.6 0zM90.85 157.88a1.3 1.3 0 1 0 2.6 0a1.3 1.3 0 1 0 -2.6 0zM94.60 153.67a1.3 1.3 0 1 0 2.6 0a1.3 1.3 0 1 0 -2.6 0zM98.35 149.44a1.3 1.3 0 1 0 2.6 0a1.3 1.3 0 1 0 -2.6 0zM102.10 145.21a1.3 1.3 0 1 0 2.6 0a1.3 1.3 0 1 0 -2.6 0zM105.85 140.99a1.3 1.3 0 1 0 2.6 0a1.3 1.3 0 1 0 -2.6 0zM109.60 136.81a1.3 1.3 0 1 0 2.6 0a1.3 1.3 0 1 0 -2.6 0zM113.35 132.70a1.3 1.3 0 1 0 2.6 0a1.3 1.3 0 1 0 -2.6 0zM117.10 128.66a1.3 1.3 0 1 0 2.6 0a1.3 1.3 0 1 0 -2.6 0zM120.85 124.72a1.3 1.3 0 1 0 2.6 0a1.3 1.3 0 1 0 -2.6 0zM124.60 120.90a1.3 1.3 0 1 0 2.6 0a1.3 1.3 0 1 0 -2.6 0zM128.35 117.23a1.3 1.3 0 1 0 2.6 0a1.3 1.3 0 1 0 -2.6 0zM132.10 113.71a1.3 1.3 0 1 0 2.6 0a1.3 1.3 0 1 0 -2.6 0zM135.85 110.35a1.3 1.3 0 1 0 2.6 0a1.3 1.3 0 1 0 -2.6 0zM139.60 107.14a1.3 1.3 0 1 0 2.6 0a1.3 1.3 0 1 0 -2.6 0zM143.35 104.08a1.3 1.3 0 1 0 2.6 0a1.3 1.3 0 1 0 -2.6 0zM147.10 101.16a1.3 1.3 0 1 0 2.6 0a1.3 1.3 0 1 0 -2.6 0zM150.85 98.38a1.3 1.3 0 1 0 2.6 0a1.3 1.3 0 1 0 -2.6 0zM154.60 95.74a1.3 1.3 0 1 0 2.6 0a1.3 1.3 0 1 0 -2.6 0zM158.35 93.22a1.3 1.3 0 1 0 2.6 0a1.3 1.3 0 1 0 -2.6 0zM162.10 90.83a1.3 1.3 0 1 0 2.6 0a1.3 1.3 0 1 0 -2.6 0zM165.85 88.56a1.3 1.3 0 1 0 2.6 0a1.3 1.3 0 1 0 -2.6 0zM169.60 86.40a1.3 1.3 0 1 0 2.6 0a1.3 1.3 0 1 0 -2.6 0zM173.35 84.34a1.3 1.3 0 1 0 2.6 0a1.3 1.3 0 1 0 -2.6 0zM177.10 82.37a1.3 1.3 0 1 0 2.6 0a1.3 1.3 0 1 0 -2.6 0zM180.85 80.48a1.3 1.3 0 1 0 2.6 0a1.3 1.3 0 1 0 -2.6 0zM184.60 78.69a1.3 1.3 0 1 0 2.6 0a1.3 1.3 0 1 0 -2.6 0zM188.35 77.03a1.3 1.3 0 1 0 2.6 0a1.3 1.3 0 1 0 -2.6 0zM192.10 75.51a1.3 1.3 0 1 0 2.6 0a1.3 1.3 0 1 0 -2.6 0zM195.85 74.16a1.3 1.3 0 1 0 2.6 0a1.3 1.3 0 1 0 -2.6 0zM199.60 73.01a1.3 1.3 0 1 0 2.6 0a1.3 1.3 0 1 0 -2.6 0zM203.35 72.08a1.3 1.3 0 1 0 2.6 0a1.3 1.3 0 1 0 -2.6 0zM207.10 71.38a1.3 1.3 0 1 0 2.6 0a1.3 1.3 0 1 0 -2.6 0zM210.85 70.93a1.3 1.3 0 1 0 2.6 0a1.3 1.3 0 1 0 -2.6 0zM214.60 70.71a1.3 1.3 0 1 0 2.6 0a1.3 1.3 0 1 0 -2.6 0zM218.35 70.73a1.3 1.3 0 1 0 2.6 0a1.3 1.3 0 1 0 -2.6 0zM222.10 70.99a1.3 1.3 0 1 0 2.6 0a1.3 1.3 0 1 0 -2.6 0zM225.85 71.47a1.3 1.3 0 1 0 2.6 0a1.3 1.3 0 1 0 -2.6 0zM229.60 72.18a1.3 1.3 0 1 0 2.6 0a1.3 1.3 0 1 0 -2.6 0zM233.35 73.12a1.3 1.3 0 1 0 2.6 0a1.3 1.3 0 1 0 -2.6 0zM237.10 74.28a1.3 1.3 0 1 0 2.6 0a1.3 1.3 0 1 0 -2.6 0zM240.85 75.65a1.3 1.3 0 1 0 2.6 0a1.3 1.3 0 1 0 -2.6 0zM244.60 77.25a1.3 1.3 0 1 0 2.6 0a1.3 1.3 0 1 0 -2.6 0zM248.35 79.06a1.3 1.3 0 1 0 2.6 0a1.3 1.3 0 1 0 -2.6 0zM252.10 81.08a1.3 1.3 0 1 0 2.6 0a1.3 1.3 0 1 0 -2.6 0zM255.85 83.32a1.3 1.3 0 1 0 2.6 0a1.3 1.3 0 1 0 -2.6 0zM259.60 85.76a1.3 1.3 0 1 0 2.6 0a1.3 1.3 0 1 0 -2.6 0zM263.35 88.40a1.3 1.3 0 1 0 2.6 0a1.3 1.3 0 1 0 -2.6 0zM267.10 91.25a1.3 1.3 0 1 0 2.6 0a1.3 1.3 0 1 0 -2.6 0zM270.85 94.30a1.3 1.3 0 1 0 2.6 0a1.3 1.3 0 1 0 -2.6 0zM274.60 97.54a1.3 1.3 0 1 0 2.6 0a1.3 1.3 0 1 0 -2.6 0zM278.35 100.98a1.3 1.3 0 1 0 2.6 0a1.3 1.3 0 1 0 -2.6 0zM282.10 104.60a1.3 1.3 0 1 0 2.6 0a1.3 1.3 0 1 0 -2.6 0zM285.85 108.42a1.3 1.3 0 1 0 2.6 0a1.3 1.3 0 1 0 -2.6 0zM289.60 112.43a1.3 1.3 0 1 0 2.6 0a1.3 1.3 0 1 0 -2.6 0zM293.35 116.61a1.3 1.3 0 1 0 2.6 0a1.3 1.3 0 1 0 -2.6 0zM297.10 120.98a1.3 1.3 0 1 0 2.6 0a1.3 1.3 0 1 0 -2.6 0zM300.85 125.51a1.3 1.3 0 1 0 2.6 0a1.3 1.3 0 1 0 -2.6 0zM304.60 130.19a1.3 1.3 0 1 0 2.6 0a1.3 1.3 0 1 0 -2.6 0zM308.35 134.99a1.3 1.3 0 1 0 2.6 0a1.3 1.3 0 1 0 -2.6 0zM312.10 139.90a1.3 1.3 0 1 0 2.6 0a1.3 1.3 0 1 0 -2.6 0zM315.85 144.90a1.3 1.3 0 1 0 2.6 0a1.3 1.3 0 1 0 -2.6 0zM319.60 149.96a1.3 1.3 0 1 0 2.6 0a1.3 1.3 0 1 0 -2.6 0zM323.35 155.08a1.3 1.3 0 1 0 2.6 0a1.3 1.3 0 1 0 -2.6 0zM327.10 160.24a1.3 1.3 0 1 0 2.6 0a1.3 1.3 0 1 0 -2.6 0zM330.85 165.43a1.3 1.3 0 1 0 2.6 0a1.3 1.3 0 1 0 -2.6 0zM334.60 170.65a1.3 1.3 0 1 0 2.6 0a1.3 1.3 0 1 0 -2.6 0zM338.35 175.90a1.3 1.3 0 1 0 2.6 0a1.3 1.3 0 1 0 -2.6 0zM342.10 181.17a1.3 1.3 0 1 0 2.6 0a1.3 1.3 0 1 0 -2.6 0zM345.85 186.48a1.3 1.3 0 1 0 2.6 0a1.3 1.3 0 1 0 -2.6 0zM349.60 191.82a1.3 1.3 0 1 0 2.6 0a1.3 1.3 0 1 0 -2.6 0zM353.35 197.18a1.3 1.3 0 1 0 2.6 0a1.3 1.3 0 1 0 -2.6 0zM357.10 202.57a1.3 1.3 0 1 0 2.6 0a1.3 1.3 0 1 0 -2.6 0zM360.85 207.98a1.3 1.3 0 1 0 2.6 0a1.3 1.3 0 1 0 -2.6 0zM364.60 213.42a1.3 1.3 0 1 0 2.6 0a1.3 1.3 0 1 0 -2.6 0zM368.35 218.88a1.3 1.3 0 1 0 2.6 0a1.3 1.3 0 1 0 -2.6 0zM372.10 224.37a1.3 1.3 0 1 0 2.6 0a1.3 1.3 0 1 0 -2.6 0zM375.85 229.88a1.3 1.3 0 1 0 2.6 0a1.3 1.3 0 1 0 -2.6 0zM379.60 235.41a1.3 1.3 0 1 0 2.6 0a1.3 1.3 0 1 0 -2.6 0zM383.35 240.96a1.3 1.3 0 1 0 2.6 0a1.3 1.3 0 1 0 -2.6 0zM387.10 246.54a1.3 1.3 0 1 0 2.6 0a1.3 1.3 0 1 0 -2.6 0zM390.85 252.13a1.3 1.3 0 1 0 2.6 0a1.3 1.3 0 1 0 -2.6 0zM394.60 257.74a1.3 1.3 0 1 0 2.6 0a1.3 1.3 0 1 0 -2.6 0zM398.35 263.37a1.3 1.3 0 1 0 2.6 0a1.3 1.3 0 1 0 -2.6 0zM402.10 269.02a1.3 1.3 0 1 0 2.6 0a1.3 1.3 0 1 0 -2.6 0zM405.85 274.68a1.3 1.3 0 1 0 2.6 0a1.3 1.3 0 1 0 -2.6 0zM409.60 280.36a1.3 1.3 0 1 0 2.6 0a1.3 1.3 0 1 0 -2.6 0zM413.35 286.06a1.3 1.3 0 1 0 2.6 0a1.3 1.3 0 1 0 -2.6 0zM417.10 291.77a1.3 1.3 0 1 0 2.6 0a1.3 1.3 0 1 0 -2.6 0zM420.85 297.50a1.3 1.3 0 1 0 2.6 0a1.3 1.3 0 1 0 -2.6 0zM424.60 303.24a1.3 1.3 0 1 0 2.6 0a1.3 1.3 0 1 0 -2.6 0zM428.35 308.99a1.3 1.3 0 1 0 2.6 0a1.3 1.3 0 1 0 -2.6 0zM432.10 314.75a1.3 1.3 0 1 0 2.6 0a1.3 1.3 0 1 0 -2.6 0z" fill="none" stroke="#000" stroke-width="0.95"/>
<path d="M65.90 103.77L67.40 101.07L64.40 101.07zM69.65 100.74L71.15 98.04L68.15 98.04zM73.40 97.52L74.90 94.82L71.90 94.82zM77.15 94.14L78.65 91.44L75.65 91.44zM80.90 90.63L82.40 87.93L79.40 87.93zM84.65 87.01L86.15 84.31L83.15 84.31zM88.40 83.31L89.90 80.61L86.90 80.61zM92.15 79.55L93.65 76.85L90.65 76.85zM95.90 75.76L97.40 73.06L94.40 73.06zM99.65 71.97L101.15 69.27L98.15 69.27zM103.40 68.19L104.90 65.49L101.90 65.49zM107.15 64.46L108.65 61.76L105.65 61.76zM110.90 60.81L112.40 58.11L109.40 58.11zM114.65 57.26L116.15 54.56L113.15 54.56zM118.40 53.85L119.90 51.15L116.90 51.15zM122.15 50.60L123.65 47.90L120.65 47.90zM125.90 47.55L127.40 44.85L124.40 44.85zM129.65 44.71L131.15 42.01L128.15 42.01zM133.40 42.12L134.90 39.42L131.90 39.42zM137.15 39.82L138.65 37.12L135.65 37.12zM140.90 37.81L142.40 35.11L139.40 35.11zM144.65 36.15L146.15 33.45L143.15 33.45zM148.40 34.84L149.90 32.14L146.90 32.14zM152.15 33.93L153.65 31.23L150.65 31.23zM155.90 33.41L157.40 30.71L154.40 30.71zM159.65 33.24L161.15 30.54L158.15 30.54zM163.40 33.43L164.90 30.73L161.90 30.73zM167.15 33.93L168.65 31.23L165.65 31.23zM170.90 34.74L172.40 32.04L169.40 32.04zM174.65 35.83L176.15 33.13L173.15 33.13zM178.40 37.18L179.90 34.48L176.90 34.48zM182.15 38.77L183.65 36.07L180.65 36.07zM185.90 40.57L187.40 37.87L184.40 37.87zM189.65 42.58L191.15 39.88L188.15 39.88zM193.40 44.78L194.90 42.08L191.90 42.08zM197.15 47.16L198.65 44.46L195.65 44.46zM200.90 49.71L202.40 47.01L199.40 47.01zM204.65 52.43L206.15 49.73L203.15 49.73zM208.40 55.30L209.90 52.60L206.90 52.60zM212.15 58.32L213.65 55.62L210.65 55.62zM215.90 61.48L217.40 58.78L214.40 58.78zM219.65 64.77L221.15 62.07L218.15 62.07zM223.40 68.18L224.90 65.48L221.90 65.48zM227.15 71.72L228.65 69.02L225.65 69.02zM230.90 75.38L232.40 72.68L229.40 72.68zM234.65 79.16L236.15 76.46L233.15 76.46zM238.40 83.06L239.90 80.36L236.90 80.36zM242.15 87.08L243.65 84.38L240.65 84.38zM245.90 91.22L247.40 88.52L244.40 88.52zM249.65 95.47L251.15 92.77L248.15 92.77zM253.40 99.85L254.90 97.15L251.90 97.15zM257.15 104.34L258.65 101.64L255.65 101.64zM260.90 108.96L262.40 106.26L259.40 106.26zM264.65 113.68L266.15 110.98L263.15 110.98zM268.40 118.53L269.90 115.83L266.90 115.83zM272.15 123.48L273.65 120.78L270.65 120.78zM275.90 128.52L277.40 125.82L274.40 125.82zM279.65 133.65L281.15 130.95L278.15 130.95zM283.40 138.86L284.90 136.16L281.90 136.16zM287.15 144.14L288.65 141.44L285.65 141.44zM290.90 149.46L292.40 146.76L289.40 146.76zM294.65 154.84L296.15 152.14L293.15 152.14zM298.40 160.25L299.90 157.55L296.90 157.55zM302.15 165.68L303.65 162.98L300.65 162.98zM305.90 171.14L307.40 168.44L304.40 168.44zM309.65 176.62L311.15 173.92L308.15 173.92zM313.40 182.13L314.90 179.43L311.90 179.43zM317.15 187.65L318.65 184.95L315.65 184.95zM320.90 193.19L322.40 190.49L319.40 190.49zM324.65 198.75L326.15 196.05L323.15 196.05zM328.40 204.32L329.90 201.62L326.90 201.62zM332.15 209.92L333.65 207.22L330.65 207.22zM335.90 215.52L337.40 212.82L334.40 212.82zM339.65 221.14L341.15 218.44L338.15 218.44zM343.40 226.78L344.90 224.08L341.90 224.08zM347.15 232.42L348.65 229.72L345.65 229.72zM350.90 238.08L352.40 235.38L349.40 235.38zM354.65 243.75L356.15 241.05L353.15 241.05zM358.40 249.42L359.90 246.72L356.90 246.72zM362.15 255.10L363.65 252.40L360.65 252.40zM365.90 260.79L367.40 258.09L364.40 258.09zM369.65 266.49L371.15 263.79L368.15 263.79zM373.40 272.19L374.90 269.49L371.90 269.49zM377.15 277.89L378.65 275.19L375.65 275.19zM380.90 283.60L382.40 280.90L379.40 280.90zM384.65 289.30L386.15 286.60L383.15 286.60zM388.40 295.01L389.90 292.31L386.90 292.31zM392.15 300.72L393.65 298.02L390.65 298.02zM395.90 306.42L397.40 303.72L394.40 303.72zM399.65 312.13L401.15 309.43L398.15 309.43zM403.40 317.83L404.90 315.13L401.90 315.13zM407.15 323.52L408.65 320.82L405.65 320.82zM410.90 329.21L412.40 326.51L409.40 326.51zM414.65 334.89L416.15 332.19L413.15 332.19zM418.40 340.57L419.90 337.87L416.90 337.87zM422.15 346.23L423.65 343.53L420.65 343.53zM425.90 351.89L427.40 349.19L424.40 349.19zM429.65 357.53L431.15 354.83L428.15 354.83zM433.40 363.17L434.90 360.47L431.90 360.47z" fill="#0a0a0a" fill-rule="evenodd"/>
<path d="M65.90 55.45L67.40 58.15L64.40 58.15zM69.65 53.05L71.15 55.75L68.15 55.75zM73.40 50.68L74.90 53.38L71.90 53.38zM77.15 48.34L78.65 51.04L75.65 51.04zM80.90 46.06L82.40 48.76L79.40 48.76zM84.65 43.85L86.15 46.55L83.15 46.55zM88.40 41.71L89.90 44.41L86.90 44.41zM92.15 39.67L93.65 42.37L90.65 42.37zM95.90 37.74L97.40 40.44L94.40 40.44zM99.65 35.92L101.15 38.62L98.15 38.62zM103.40 34.24L104.90 36.94L101.90 36.94zM107.15 32.70L108.65 35.40L105.65 35.40zM110.90 31.32L112.40 34.02L109.40 34.02zM114.65 30.11L116.15 32.81L113.15 32.81zM118.40 29.09L119.90 31.79L116.90 31.79zM122.15 28.26L123.65 30.96L120.65 30.96zM125.90 27.64L127.40 30.34L124.40 30.34zM129.65 27.23L131.15 29.93L128.15 29.93zM133.40 27.04L134.90 29.74L131.90 29.74zM137.15 27.06L138.65 29.76L135.65 29.76zM140.90 27.29L142.40 29.99L139.40 29.99zM144.65 27.73L146.15 30.43L143.15 30.43zM148.40 28.40L149.90 31.10L146.90 31.10zM152.15 29.27L153.65 31.97L150.65 31.97zM155.90 30.37L157.40 33.07L154.40 33.07zM159.65 31.69L161.15 34.39L158.15 34.39zM163.40 33.22L164.90 35.92L161.90 35.92zM167.15 34.97L168.65 37.67L165.65 37.67zM170.90 36.93L172.40 39.63L169.40 39.63zM174.65 39.09L176.15 41.79L173.15 41.79zM178.40 41.45L179.90 44.15L176.90 44.15zM182.15 43.98L183.65 46.68L180.65 46.68zM185.90 46.70L187.40 49.40L184.40 49.40zM189.65 49.59L191.15 52.29L188.15 52.29zM193.40 52.63L194.90 55.33L191.90 55.33zM197.15 55.84L198.65 58.54L195.65 58.54zM200.90 59.20L202.40 61.90L199.40 61.90zM204.65 62.72L206.15 65.42L203.15 65.42zM208.40 66.38L209.90 69.08L206.90 69.08zM212.15 70.19L213.65 72.89L210.65 72.89zM215.90 74.15L217.40 76.85L214.40 76.85zM219.65 78.25L221.15 80.95L218.15 80.95zM223.40 82.48L224.90 85.18L221.90 85.18zM227.15 86.84L228.65 89.54L225.65 89.54zM230.90 91.32L232.40 94.02L229.40 94.02zM234.65 95.92L236.15 98.62L233.15 98.62zM238.40 100.63L239.90 103.33L236.90 103.33zM242.15 105.45L243.65 108.15L240.65 108.15zM245.90 110.35L247.40 113.05L244.40 113.05zM249.65 115.35L251.15 118.05L248.15 118.05zM253.40 120.43L254.90 123.13L251.90 123.13zM257.15 125.59L258.65 128.29L255.65 128.29zM260.90 130.81L262.40 133.51L259.40 133.51zM264.65 136.10L266.15 138.80L263.15 138.80zM268.40 141.44L269.90 144.14L266.90 144.14zM272.15 146.84L273.65 149.54L270.65 149.54zM275.90 152.28L277.40 154.98L274.40 154.98zM279.65 157.75L281.15 160.45L278.15 160.45zM283.40 163.25L284.90 165.95L281.90 165.95zM287.15 168.78L288.65 171.48L285.65 171.48zM290.90 174.32L292.40 177.02L289.40 177.02zM294.65 179.88L296.15 182.58L293.15 182.58zM298.40 185.44L299.90 188.14L296.90 188.14zM302.15 191.02L303.65 193.72L300.65 193.72zM305.90 196.60L307.40 199.30L304.40 199.30zM309.65 202.19L311.15 204.89L308.15 204.89zM313.40 207.79L314.90 210.49L311.90 210.49zM317.15 213.40L318.65 216.10L315.65 216.10zM320.90 219.01L322.40 221.71L319.40 221.71zM324.65 224.64L326.15 227.34L323.15 227.34zM328.40 230.27L329.90 232.97L326.90 232.97zM332.15 235.90L333.65 238.60L330.65 238.60zM335.90 241.55L337.40 244.25L334.40 244.25zM339.65 247.20L341.15 249.90L338.15 249.90zM343.40 252.85L344.90 255.55L341.90 255.55zM347.15 258.52L348.65 261.22L345.65 261.22zM350.90 264.18L352.40 266.88L349.40 266.88zM354.65 269.86L356.15 272.56L353.15 272.56zM358.40 275.53L359.90 278.23L356.90 278.23zM362.15 281.22L363.65 283.92L360.65 283.92zM365.90 286.90L367.40 289.60L364.40 289.60zM369.65 292.60L371.15 295.30L368.15 295.30zM373.40 298.29L374.90 300.99L371.90 300.99zM377.15 303.99L378.65 306.69L375.65 306.69zM380.90 309.69L382.40 312.39L379.40 312.39zM384.65 315.40L386.15 318.10L383.15 318.10zM388.40 321.11L389.90 323.81L386.90 323.81zM392.15 326.82L393.65 329.52L390.65 329.52zM395.90 332.53L397.40 335.23L394.40 335.23zM399.65 338.25L401.15 340.95L398.15 340.95zM403.40 343.96L404.90 346.66L401.90 346.66zM407.15 349.68L408.65 352.38L405.65 352.38zM410.90 355.40L412.40 358.10L409.40 358.10zM414.65 361.12L416.15 363.82L413.15 363.82zM418.40 366.84L419.90 369.54L416.90 369.54zM422.15 372.56L423.65 375.26L420.65 375.26zM425.90 378.28L427.40 380.98L424.40 380.98zM429.65 384.00L431.15 386.70L428.15 386.70zM433.40 389.72L434.90 392.42L431.90 392.42z" fill="#0a0a0a" fill-rule="evenodd"/>
<path d="M64.55 50.98h2.70v2.70h-2.70zM68.30 48.92h2.70v2.70h-2.70zM72.05 46.87h2.70v2.70h-2.70zM75.80 44.84h2.70v2.70h-2.70zM79.55 42.86h2.70v2.70h-2.70zM83.30 40.92h2.70v2.70h-2.70zM87.05 39.06h2.70v2.70h-2.70zM90.80 37.30h2.70v2.70h-2.70zM94.55 35.64h2.70v2.70h-2.70zM98.30 34.10h2.70v2.70h-2.70zM102.05 32.71h2.70v2.70h-2.70zM105.80 31.48h2.70v2.70h-2.70zM109.55 30.41h2.70v2.70h-2.70zM113.30 29.51h2.70v2.70h-2.70zM117.05 28.79h2.70v2.70h-2.70zM120.80 28.25h2.70v2.70h-2.70zM124.55 27.90h2.70v2.70h-2.70zM128.30 27.75h2.70v2.70h-2.70zM132.05 27.80h2.70v2.70h-2.70zM135.80 28.06h2.70v2.70h-2.70zM139.55 28.53h2.70v2.70h-2.70zM143.30 29.22h2.70v2.70h-2.70zM147.05 30.14h2.70v2.70h-2.70zM150.80 31.29h2.70v2.70h-2.70zM154.55 32.67h2.70v2.70h-2.70zM158.30 34.30h2.70v2.70h-2.70zM162.05 36.17h2.70v2.70h-2.70zM165.80 38.25h2.70v2.70h-2.70zM169.55 40.55h2.70v2.70h-2.70zM173.30 43.04h2.70v2.70h-2.70zM177.05 45.72h2.70v2.70h-2.70zM180.80 48.58h2.70v2.70h-2.70zM184.55 51.60h2.70v2.70h-2.70zM188.30 54.77h2.70v2.70h-2.70zM192.05 58.09h2.70v2.70h-2.70zM195.80 61.57h2.70v2.70h-2.70zM199.55 65.19h2.70v2.70h-2.70zM203.30 68.97h2.70v2.70h-2.70zM207.05 72.90h2.70v2.70h-2.70zM210.80 76.97h2.70v2.70h-2.70zM214.55 81.20h2.70v2.70h-2.70zM218.30 85.56h2.70v2.70h-2.70zM222.05 90.04h2.70v2.70h-2.70zM225.80 94.66h2.70v2.70h-2.70zM229.55 99.38h2.70v2.70h-2.70zM233.30 104.21h2.70v2.70h-2.70zM237.05 109.15h2.70v2.70h-2.70zM240.80 114.17h2.70v2.70h-2.70zM244.55 119.28h2.70v2.70h-2.70zM248.30 124.47h2.70v2.70h-2.70zM252.05 129.73h2.70v2.70h-2.70zM255.80 135.05h2.70v2.70h-2.70zM259.55 140.43h2.70v2.70h-2.70zM263.30 145.86h2.70v2.70h-2.70zM267.05 151.33h2.70v2.70h-2.70zM270.80 156.83h2.70v2.70h-2.70zM274.55 162.35h2.70v2.70h-2.70zM278.30 167.90h2.70v2.70h-2.70zM282.05 173.46h2.70v2.70h-2.70zM285.80 179.02h2.70v2.70h-2.70zM289.55 184.60h2.70v2.70h-2.70zM293.30 190.19h2.70v2.70h-2.70zM297.05 195.79h2.70v2.70h-2.70zM300.80 201.40h2.70v2.70h-2.70zM304.55 207.01h2.70v2.70h-2.70zM308.30 212.64h2.70v2.70h-2.70zM312.05 218.27h2.70v2.70h-2.70zM315.80 223.91h2.70v2.70h-2.70zM319.55 229.56h2.70v2.70h-2.70zM323.30 235.22h2.70v2.70h-2.70zM327.05 240.88h2.70v2.70h-2.70zM330.80 246.55h2.70v2.70h-2.70zM334.55 252.22h2.70v2.70h-2.70zM338.30 257.91h2.70v2.70h-2.70zM342.05 263.59h2.70v2.70h-2.70zM345.80 269.28h2.70v2.70h-2.70zM349.55 274.98h2.70v2.70h-2.70zM353.30 280.68h2.70v2.70h-2.70zM357.05 286.39h2.70v2.70h-2.70zM360.80 292.09h2.70v2.70h-2.70zM364.55 297.81h2.70v2.70h-2.70zM368.30 303.52h2.70v2.70h-2.70zM372.05 309.24h2.70v2.70h-2.70zM375.80 314.96h2.70v2.70h-2.70zM379.55 320.68h2.70v2.70h-2.70zM383.30 326.41h2.70v2.70h-2.70zM387.05 332.13h2.70v2.70h-2.70zM390.80 337.86h2.70v2.70h-2.70zM394.55 343.58h2.70v2.70h-2.70zM398.30 349.31h2.70v2.70h-2.70zM402.05 355.04h2.70v2.70h-2.70zM405.80 360.76h2.70v2.70h-2.70zM409.55 366.49h2.70v2.70h-2.70zM413.30 372.21h2.70v2.70h-2.70zM417.05 377.94h2.70v2.70h-2.70zM420.80 383.66h2.70v2.70h-2.70zM424.55 389.37h2.70v2.70h-2.70zM428.30 395.09h2.70v2.70h-2.70zM432.05 400.80h2.70v2.70h-2.70z" fill="#0a0a0a" fill-rule="evenodd"/>
</g>
<line x1="222.9" y1="25.3" x2="430.5" y2="331.6" stroke="#d046a8" stroke-width="3.6"/>
<text class="h" x="86.30" y="33.10" text-anchor="middle" font-size="17">350</text>
<text class="h" x="90.10" y="64.00" text-anchor="middle" font-size="17">250</text>
<text class="h" x="137.70" y="62.00" text-anchor="middle" font-size="17">100</text>
<text class="h" x="145.20" y="87.00" text-anchor="middle" font-size="17">22.5</text>
<text class="h" x="191.80" y="113.00" text-anchor="middle" font-size="17">15</text>
<text class="h" x="218.80" y="131.80" text-anchor="middle" font-size="17">8.46</text>
<text class="h" x="223.30" y="156.00" text-anchor="middle" font-size="17">4.86</text>
<text class="h" x="228.40" y="207.80" text-anchor="middle" font-size="17">1.43</text>
<text class="m" x="255.00" y="59.20" text-anchor="middle" font-size="18">t</text>
<text class="m" x="278.10" y="49.80" text-anchor="middle" font-size="16.5">-2p/3</text>
<text class="s" x="41.31" y="26.00" text-anchor="middle" font-size="21.5">10</text>
<text class="s" x="55.80" y="10.60" text-anchor="middle" font-size="14">4</text>
<text class="s" x="40.21" y="88.80" text-anchor="middle" font-size="21.5">10</text>
<text class="s" x="55.95" y="77.80" text-anchor="middle" font-size="14">3</text>
<text class="s" x="42.06" y="159.30" text-anchor="middle" font-size="21.5">10</text>
<text class="s" x="56.15" y="143.80" text-anchor="middle" font-size="14">2</text>
<text class="s" x="42.91" y="220.90" text-anchor="middle" font-size="21.5">10</text>
<text class="s" x="46.95" y="285.10" text-anchor="middle" font-size="21.5">1</text>
<text class="s" x="39.71" y="354.90" text-anchor="middle" font-size="21.5">10</text>
<text class="s" x="51.25" y="339.90" text-anchor="middle" font-size="14">-</text>
<text class="s" x="57.50" y="339.90" text-anchor="middle" font-size="14">1</text>
<text class="s" x="39.71" y="417.20" text-anchor="middle" font-size="21.5">10</text>
<text class="s" x="51.30" y="406.00" text-anchor="middle" font-size="14">-</text>
<text class="s" x="56.90" y="406.00" text-anchor="middle" font-size="14">2</text>
<text class="s" x="62.31" y="439.90" text-anchor="middle" font-size="21.5">10</text>
<text class="s" x="77.25" y="428.90" text-anchor="middle" font-size="14">-</text>
<text class="s" x="82.95" y="428.90" text-anchor="middle" font-size="14">1</text>
<text class="s" x="155.35" y="439.90" text-anchor="middle" font-size="21.5">1</text>
<text class="s" x="248.86" y="440.50" text-anchor="middle" font-size="21.5">10</text>
<text class="s" x="341.36" y="441.00" text-anchor="middle" font-size="21.5">10</text>
<text class="s" x="357.80" y="429.10" text-anchor="middle" font-size="14">2</text>
<text class="s" x="430.11" y="440.70" text-anchor="middle" font-size="21.5">10</text>
<text class="s" x="445.30" y="430.30" text-anchor="middle" font-size="14">3</text>
<text class="s" x="249.35" y="465.80" text-anchor="middle" font-size="21.35">Time after burst (days)</text>
<text class="s" transform="translate(15.9,219.5) rotate(-90)" font-size="21.3">Jansky</text>
<text class="s" transform="translate(12.2,236.9) rotate(-90) scale(1.3,1)" font-size="15">μ</text>
</svg>
</body></html>
